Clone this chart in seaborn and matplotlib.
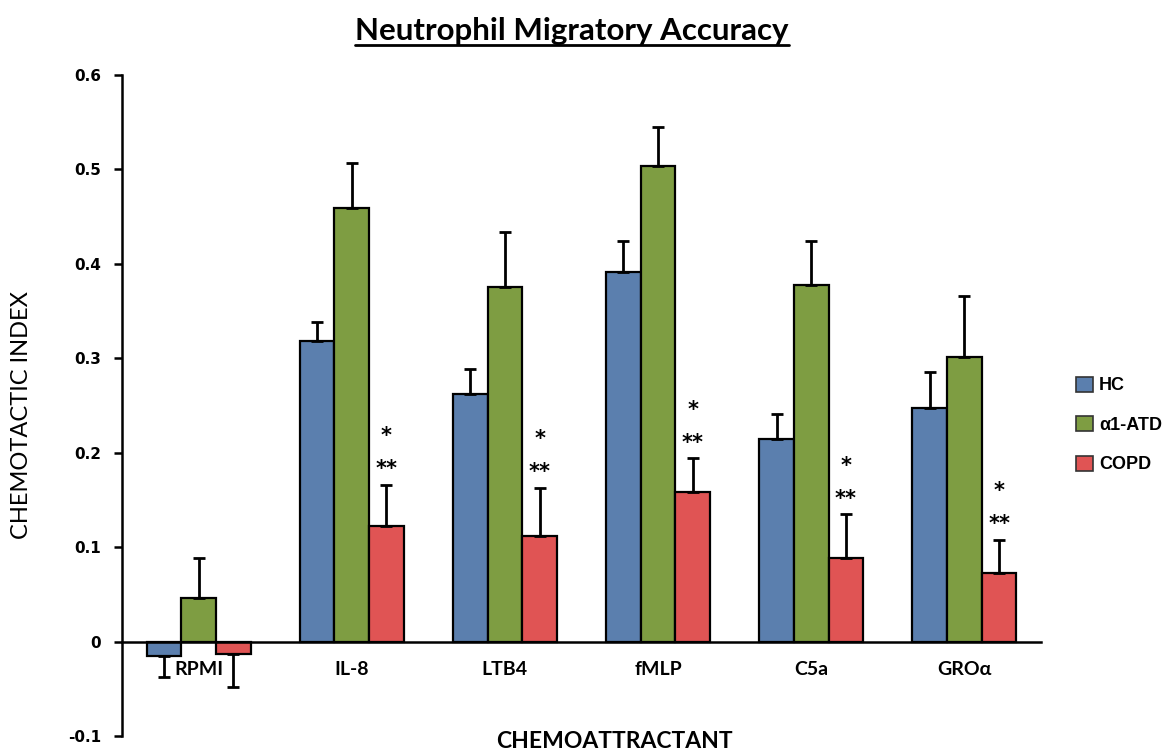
import matplotlib
matplotlib.use("Agg")
import matplotlib.pyplot as plt
from matplotlib.lines import Line2D
import numpy as np
import pandas as pd
import seaborn as sns

# Chemotactic index per chemoattractant (mean and SEM)
categories = ["RPMI", "IL-8", "LTB4", "fMLP", "C5a", "GROα"]
groups = ["HC", "α1-ATD", "COPD"]
hc = [-0.015, 0.318, 0.262, 0.391, 0.215, 0.247]
hc_err = [0.022, 0.020, 0.027, 0.033, 0.026, 0.039]
atd = [0.046, 0.459, 0.376, 0.504, 0.378, 0.301]
atd_err = [0.042, 0.048, 0.058, 0.041, 0.046, 0.065]
copd = [-0.013, 0.122, 0.112, 0.158, 0.089, 0.073]
copd_err = [0.035, 0.044, 0.051, 0.036, 0.046, 0.035]
# significance flags for COPD vs the other groups
copd_sig = [False, True, True, True, True, True]
y_ticks = [-0.1, 0.0, 0.1, 0.2, 0.3, 0.4, 0.5, 0.6]
y_ticklabels = ["-0.1", "0", "0.1", "0.2", "0.3", "0.4", "0.5", "0.6"]

colors = ["#5B7FAE", "#7E9D42", "#E05454"]

df = pd.DataFrame({
    "agent": categories * 3,
    "group": sum([[g] * len(categories) for g in groups], []),
    "value": hc + atd + copd,
})
errs = [hc_err, atd_err, copd_err]

sns.set_style("white")
plt.rcParams["font.family"] = ["Lato", "DejaVu Sans"]
for key in ["text.color", "axes.labelcolor", "xtick.color", "ytick.color"]:
    plt.rcParams[key] = "black"

fig = plt.figure(figsize=(11.68, 7.5), dpi=100)
ax = fig.add_axes([122 / 1168, 14 / 750, 919 / 1168, 661 / 750])

sns.barplot(data=df, x="agent", y="value", hue="group", order=categories,
            hue_order=groups, palette=colors, width=0.68, errorbar=None,
            edgecolor="black", linewidth=1.6, saturation=1, ax=ax, legend=True)

# one-sided error bars, pointing away from zero
for cont, err in zip(ax.containers, errs):
    for patch, e in zip(cont.patches, err):
        x = patch.get_x() + patch.get_width() / 2
        y0 = patch.get_y()
        y1 = patch.get_y() + patch.get_height()
        if min(y0, y1) < 0:
            v, yerr = min(y0, y1), [[e], [0]]
        else:
            v, yerr = max(y0, y1), [[0], [e]]
        ax.errorbar([x], [v], yerr=yerr, fmt="none", ecolor="black",
                    elinewidth=2, capsize=4, capthick=2, zorder=1)

# significance asterisks above COPD bars
for patch, e, v, sig in zip(ax.containers[2].patches, copd_err, copd, copd_sig):
    if not sig:
        continue
    x = patch.get_x() + patch.get_width() / 2
    top = v + e
    ax.text(x, top + 0.010, "**", ha="center", va="baseline", fontsize=15,
            fontweight="bold", family="DejaVu Sans")
    ax.text(x, top + 0.045, "*", ha="center", va="baseline", fontsize=15,
            fontweight="bold", family="DejaVu Sans")

ax.set_ylim(-0.1, 0.6)
ax.set_xlim(-0.5, len(categories) - 0.5)

# spines first: moving a spine rebuilds the tick objects
for s in ["top", "right"]:
    ax.spines[s].set_visible(False)
ax.spines["bottom"].set_position(("data", 0))
for s in ["bottom", "left"]:
    ax.spines[s].set_linewidth(1.8)
    ax.spines[s].set_color("black")
ax.set_xlabel("")
ax.set_ylabel("")

ax.tick_params(axis="x", which="major", direction="out", length=6, width=1.8,
               color="black", labelbottom=False)
ax.tick_params(axis="x", which="minor", length=0, pad=14, labelsize=14,
               labelbottom=True)
ax.tick_params(axis="y", direction="out", length=6, width=1.8, color="black",
               pad=9, left=True, labelsize=11)

ax.set_yticks(y_ticks)
ax.set_yticklabels(y_ticklabels)

# category boundaries as major ticks, names on minor ticks
ax.set_xticks(np.arange(-0.5, len(categories), 1.0))
ax.set_xticks(np.arange(len(categories)), minor=True)
ax.set_xticklabels(categories, minor=True)

fig.canvas.draw()
plt.setp(ax.get_xticklabels(minor=True), fontweight="bold", fontsize=14)
plt.setp(ax.get_yticklabels(), fontweight="bold", fontsize=11,
         family="DejaVu Sans")

# legend to the right of the plot
ax.legend_.remove()
handles = [plt.Rectangle((0, 0), 1, 1, facecolor=c, edgecolor="#333333",
                         linewidth=1.2) for c in colors]
fig.legend(handles, groups, loc="center left",
           bbox_to_anchor=(1060 / 1168, 1 - 425 / 750), frameon=False,
           handlelength=0.9, handleheight=0.9, handletextpad=0.35,
           labelspacing=1.2, prop={"family": "Liberation Sans",
                                   "weight": "bold", "size": 13})

# axis titles
fig.text(614 / 1168, 1 - 748 / 750, "CHEMOATTRACTANT", ha="center",
         va="baseline", fontsize=16.5, fontweight="bold")
fig.text(22 / 1168, 1 - 415 / 750, "CHEMOTACTIC INDEX", ha="center",
         va="center", rotation=90, fontsize=17)

# underlined title
title = fig.text(572 / 1168, 1 - 40 / 750, "Neutrophil Migratory Accuracy",
                 ha="center", va="baseline", fontsize=22.5, fontweight="bold")
fig.canvas.draw()
bb = title.get_window_extent().transformed(fig.transFigure.inverted())
uy = 1 - 45 / 750
fig.add_artist(Line2D([bb.x0, bb.x1], [uy, uy], color="black", linewidth=2,
                      transform=fig.transFigure))

fig.savefig("out.png", dpi=100)
